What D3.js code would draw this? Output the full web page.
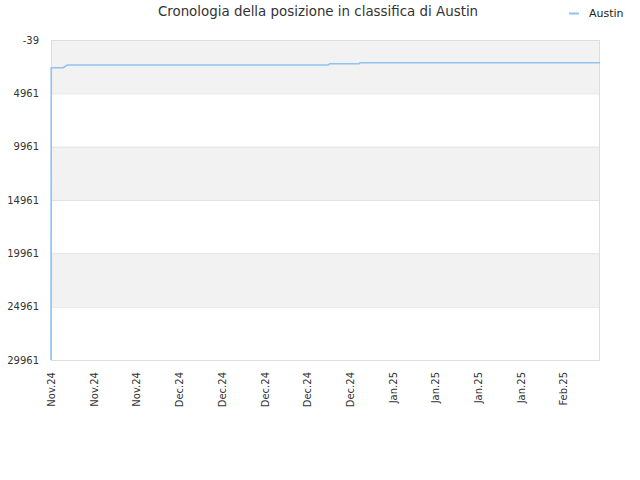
<!DOCTYPE html>
<html>
<head>
<meta charset="utf-8">
<script src="https://cdn.jsdelivr.net/npm/d3@7"></script>
<style>
    body { margin: 0; background: #fff; }
    text { font-family: "DejaVu Sans", sans-serif; }
</style>
</head>
<body>
<script>
// Dati della serie (date e posizione in classifica)
const dates = [
    "2024-11-10T00:00", "2024-11-10T01:00", "2024-11-12T00:00", "2024-11-12T16:00",
    "2024-12-25T12:00", "2024-12-25T16:00", "2024-12-30T12:00", "2024-12-30T16:00",
    "2025-02-08T00:00"
];
const positions = [29961, 2558, 2558, 2305, 2305, 2183, 2183, 2089, 2089];
const seriesName = "Austin";
const yTicks = [-39, 4961, 9961, 14961, 19961, 24961, 29961];
const xTickDates = [
    "2024-11-10", "2024-11-17", "2024-11-24", "2024-12-01", "2024-12-08", "2024-12-15",
    "2024-12-22", "2024-12-29", "2025-01-05", "2025-01-12", "2025-01-19", "2025-01-26",
    "2025-02-02"
];

const width = 640, height = 480;
const margin = { top: 40, right: 40, bottom: 120, left: 51 };
const parse = d3.timeParse("%Y-%m-%dT%H:%M");
const parseDay = d3.timeParse("%Y-%m-%d");

const data = dates.map((d, i) => ({ date: parse(d), pos: positions[i] }));

const svg = d3.select("body").append("svg")
    .attr("width", width)
    .attr("height", height);

const x = d3.scaleTime()
    .domain([parseDay("2024-11-10"), parse("2025-02-08T00:00")])
    .range([margin.left, width - margin.right]);

const y = d3.scaleLinear()
    .domain([-39, 29961])
    .range([margin.top, height - margin.bottom]);

// Fasce alternate
svg.append("g").selectAll("rect")
    .data(d3.range(yTicks.length - 1))
    .enter()
    .append("rect")
    .attr("x", margin.left)
    .attr("width", width - margin.right - margin.left)
    .attr("y", i => y(yTicks[i]))
    .attr("height", i => y(yTicks[i + 1]) - y(yTicks[i]))
    .attr("fill", i => i % 2 === 0 ? "#f2f2f2" : "#ffffff");

// Griglia orizzontale
svg.append("g").selectAll("line")
    .data(yTicks)
    .enter()
    .append("line")
    .attr("x1", margin.left)
    .attr("x2", width - margin.right)
    .attr("y1", d => y(d) + 0.5)
    .attr("y2", d => y(d) + 0.5)
    .attr("stroke", "#e3e3e3");

// Bordo
svg.append("rect")
    .attr("x", margin.left + 0.5)
    .attr("y", margin.top + 0.5)
    .attr("width", width - margin.right - margin.left - 1)
    .attr("height", height - margin.bottom - margin.top)
    .attr("fill", "none")
    .attr("stroke", "#dddddd");

// Asse Y
const yAxis = svg.append("g")
    .attr("transform", `translate(${margin.left - 12}, 0)`)
    .call(d3.axisLeft(y).tickValues(yTicks).tickFormat(d => String(d)).tickSize(0).tickPadding(0));
yAxis.select(".domain").remove();
yAxis.selectAll("text")
    .attr("font-family", "DejaVu Sans, sans-serif")
    .attr("font-size", 10)
    .attr("fill", "#333");

// Asse X
const xAxis = svg.append("g")
    .attr("transform", `translate(0, ${height - margin.bottom})`)
    .call(d3.axisBottom(x)
        .tickValues(xTickDates.map(parseDay))
        .tickFormat(d3.timeFormat("%b.%y"))
        .tickSize(0)
        .tickPadding(0));
xAxis.select(".domain").remove();
xAxis.selectAll("text")
    .attr("font-family", "DejaVu Sans, sans-serif")
    .attr("font-size", 10)
    .attr("fill", "#333")
    .attr("text-anchor", "end")
    .attr("dy", "0.35em")
    .attr("transform", "translate(0, 12) rotate(-90)");

// Linea
const line = d3.line()
    .x(d => x(d.date))
    .y(d => y(d.pos));

svg.append("path")
    .datum(data)
    .attr("fill", "none")
    .attr("stroke", "#90c2f3")
    .attr("stroke-width", 1.6)
    .attr("d", line);

// Titolo
svg.append("text")
    .attr("x", 318)
    .attr("y", 16)
    .attr("text-anchor", "middle")
    .attr("font-size", 13.4)
    .attr("fill", "#333")
    .text("Cronologia della posizione in classifica di " + seriesName);

// Legenda
svg.append("line")
    .attr("x1", 569).attr("x2", 579)
    .attr("y1", 13.5).attr("y2", 13.5)
    .attr("stroke", "#90c2f3")
    .attr("stroke-width", 2);
svg.append("text")
    .attr("x", 589)
    .attr("y", 17)
    .attr("font-size", 11)
    .attr("fill", "#222")
    .text(seriesName);
</script>
</body>
</html>
